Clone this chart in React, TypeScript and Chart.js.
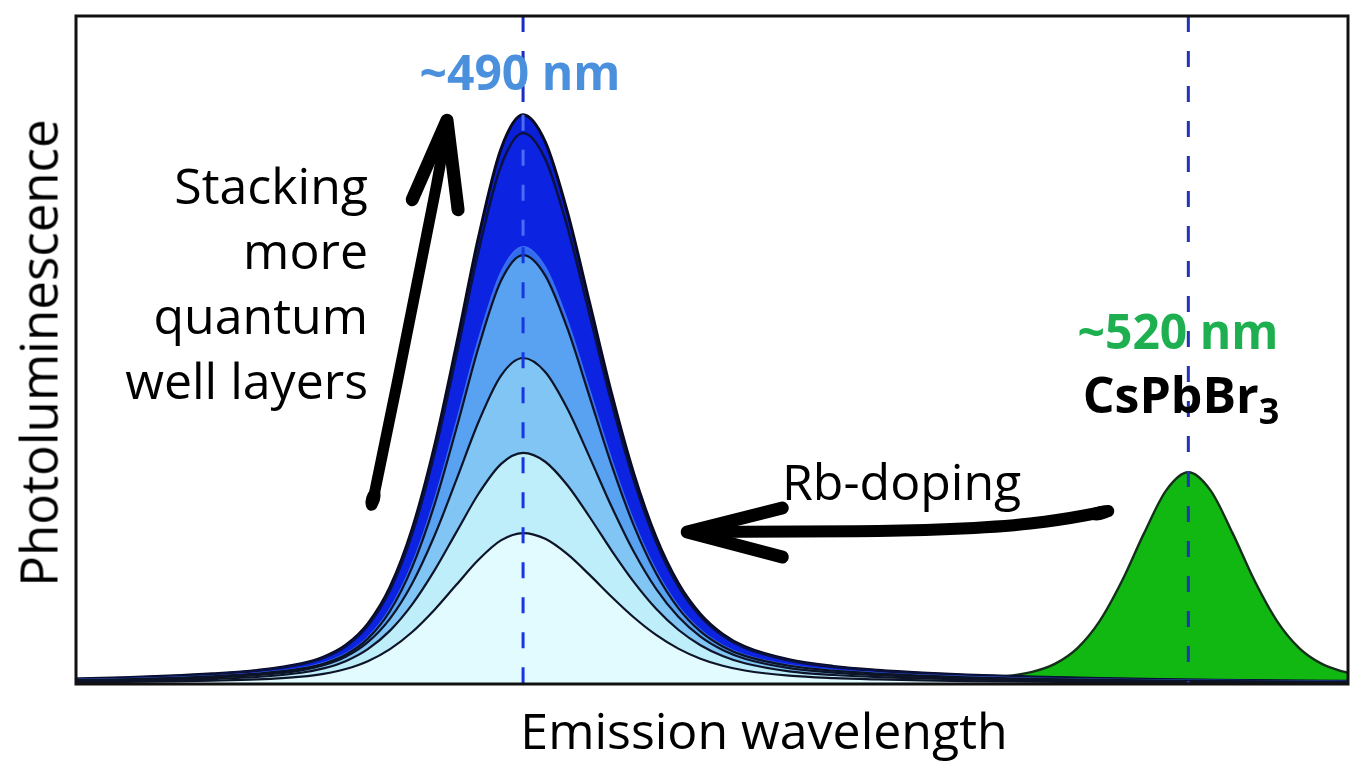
import React, { useEffect, useRef } from "react";
import { Chart, registerables } from "chart.js";

Chart.register(...registerables);

// ---- data (x = emission wavelength in nm, y = normalised photoluminescence) ----
const wavelengths = [469.8, 472, 474, 476, 478, 480, 481, 482, 483, 484, 485, 486, 487, 488, 489, 490, 491, 492, 493, 494, 495, 496, 497, 498, 499, 500, 502, 504, 506, 508, 510, 513, 516, 520, 527.2];

const layer1 = [0.0075, 0.0094, 0.0118, 0.0152, 0.0204, 0.0304, 0.0404, 0.0581, 0.0901, 0.145, 0.2321, 0.3554, 0.5086, 0.6701, 0.8005, 0.852, 0.8114, 0.7063, 0.5705, 0.4338, 0.3141, 0.2196, 0.1509, 0.1045, 0.0746, 0.0558, 0.0362, 0.0264, 0.0206, 0.0165, 0.0135, 0.0103, 0.0081, 0.0061, 0.004];
const layer2 = [0.0073, 0.0091, 0.0115, 0.0147, 0.0198, 0.0295, 0.0391, 0.0563, 0.0872, 0.1404, 0.2247, 0.3441, 0.4924, 0.6489, 0.7751, 0.825, 0.7857, 0.6839, 0.5524, 0.4201, 0.3042, 0.2126, 0.1461, 0.1011, 0.0722, 0.054, 0.0351, 0.0256, 0.02, 0.016, 0.013, 0.01, 0.0078, 0.0059, 0.0039];
const layer3 = [0.0058, 0.0072, 0.0091, 0.0116, 0.0157, 0.0233, 0.031, 0.0446, 0.0691, 0.1113, 0.1781, 0.2728, 0.3904, 0.5144, 0.6144, 0.654, 0.6229, 0.5422, 0.4379, 0.333, 0.2411, 0.1685, 0.1158, 0.0802, 0.0572, 0.0428, 0.0278, 0.0203, 0.0158, 0.0127, 0.0103, 0.0079, 0.0062, 0.0047, 0.0031];
const layer4 = [0.0057, 0.0071, 0.0089, 0.0114, 0.0154, 0.0229, 0.0304, 0.0438, 0.0679, 0.1093, 0.1749, 0.2678, 0.3832, 0.5049, 0.6032, 0.642, 0.6114, 0.5322, 0.4299, 0.3269, 0.2367, 0.1654, 0.1137, 0.0787, 0.0562, 0.0421, 0.0273, 0.0199, 0.0155, 0.0125, 0.0101, 0.0078, 0.0061, 0.0046, 0.003];
const layer5 = [0.0048, 0.0061, 0.0076, 0.0098, 0.0133, 0.0205, 0.028, 0.0408, 0.0626, 0.0979, 0.1505, 0.2215, 0.3063, 0.393, 0.4614, 0.488, 0.4671, 0.4121, 0.3397, 0.2649, 0.1975, 0.1423, 0.1005, 0.0709, 0.0509, 0.0378, 0.0238, 0.0171, 0.0132, 0.0106, 0.0086, 0.0066, 0.0052, 0.004, 0.0026];
const layer6 = [0.0038, 0.0047, 0.006, 0.0077, 0.0105, 0.0168, 0.0233, 0.0342, 0.0522, 0.0799, 0.1192, 0.1697, 0.2278, 0.2852, 0.3292, 0.346, 0.3327, 0.2975, 0.25, 0.1994, 0.1525, 0.1126, 0.0812, 0.0581, 0.0419, 0.031, 0.019, 0.0135, 0.0103, 0.0083, 0.0068, 0.0052, 0.0041, 0.0031, 0.002];
const layer7 = [0.0025, 0.0031, 0.0039, 0.005, 0.0068, 0.011, 0.0152, 0.0224, 0.0341, 0.0522, 0.0779, 0.1109, 0.1488, 0.1863, 0.215, 0.226, 0.2173, 0.1943, 0.1633, 0.1303, 0.0996, 0.0735, 0.053, 0.0379, 0.0273, 0.0202, 0.0124, 0.0088, 0.0068, 0.0054, 0.0044, 0.0034, 0.0027, 0.002, 0.0013];

const greenWavelengths = [498, 501, 504, 507, 510, 512, 513, 514, 515, 516, 517, 518, 519, 520, 521, 522, 523, 524, 525, 526, 527, 527.2];
const greenValues = [0.0017, 0.0022, 0.0031, 0.0046, 0.0076, 0.0125, 0.0184, 0.0305, 0.0538, 0.0942, 0.1537, 0.2255, 0.2899, 0.317, 0.2899, 0.2255, 0.1537, 0.0942, 0.0538, 0.0305, 0.0184, 0.0168];

const bluePeak = 490;
const greenPeak = 520;
const xMin = 469.84;
const xMax = 527.2;

// annotation arrows in data coordinates [nm, intensity]
const upArrowShaft = [[483.19, 0.268], [483.87, 0.376], [484.77, 0.525], [485.67, 0.675], [486.26, 0.774], [486.57, 0.844]];
const upArrowHead = [[485.0, 0.725], [486.57, 0.844], [487.07, 0.71]];
const leftArrowShaft = [[497.4, 0.2275], [503.0, 0.2285], [507.01, 0.229], [511.52, 0.235], [514.22, 0.2455], [516.39, 0.259]];
const leftArrowHead = [[501.69, 0.2635], [497.4, 0.2275], [501.69, 0.19]];

// ---- styles ----
const layers = [layer7, layer6, layer5, layer4, layer3, layer2, layer1];
const layerFills = ["#E2FBFF", "#BDEEFA", "#80C5F3", "#58A2F1", "#2F6CF0", "#0C24E2", "#0A1FD8"];
const layerBorders = ["#0E1428", "#0E1428", "#0E1428", "#0E1428", "#3A6FEF", "#0B1140", "#070A20"];
const layerWidths = [2.2, 2.2, 2.2, 2.2, 2.5, 2.5, 3];

const FONT = "'Open Sans', 'DejaVu Sans', sans-serif";

function smoothPath(ctx: CanvasRenderingContext2D, pts: number[][]) {
  ctx.beginPath();
  ctx.moveTo(pts[0][0], pts[0][1]);
  for (let i = 1; i < pts.length - 1; i++) {
    const mx = (pts[i][0] + pts[i + 1][0]) / 2;
    const my = (pts[i][1] + pts[i + 1][1]) / 2;
    ctx.quadraticCurveTo(pts[i][0], pts[i][1], mx, my);
  }
  const last = pts[pts.length - 1];
  ctx.lineTo(last[0], last[1]);
}

const framePlugin = {
  id: "frameAndArrows",
  afterDatasetsDraw(chart: any) {
    const { ctx, chartArea, scales } = chart;
    const toPx = (p: number[]) => [scales.x.getPixelForValue(p[0]), scales.y.getPixelForValue(p[1])];
    ctx.save();
    ctx.strokeStyle = "#111";
    ctx.lineWidth = 3;
    ctx.strokeRect(chartArea.left, chartArea.top, chartArea.right - chartArea.left, chartArea.bottom - chartArea.top);

    ctx.strokeStyle = "#000";
    ctx.fillStyle = "#000";
    ctx.lineCap = "round";
    ctx.lineJoin = "round";
    // up arrow
    ctx.lineWidth = 11;
    smoothPath(ctx, upArrowShaft.map(toPx));
    ctx.stroke();
    ctx.lineWidth = 13;
    ctx.beginPath();
    const uh = upArrowHead.map(toPx);
    ctx.moveTo(uh[0][0], uh[0][1]);
    ctx.lineTo(uh[1][0], uh[1][1]);
    ctx.lineTo(uh[2][0], uh[2][1]);
    ctx.stroke();
    const ub = toPx(upArrowShaft[0]);
    ctx.beginPath();
    ctx.ellipse(ub[0] + 1, ub[1] - 6, 7, 12, 0.3, 0, Math.PI * 2);
    ctx.fill();
    // left arrow
    ctx.lineWidth = 12;
    smoothPath(ctx, leftArrowShaft.map(toPx));
    ctx.stroke();
    const lb = toPx(leftArrowShaft[leftArrowShaft.length - 1]);
    ctx.beginPath();
    ctx.ellipse(lb[0] - 8, lb[1] + 2, 14, 7, -0.2, 0, Math.PI * 2);
    ctx.fill();
    ctx.lineWidth = 13;
    const lh = leftArrowHead.map(toPx);
    ctx.beginPath();
    ctx.moveTo(lh[0][0], lh[0][1]);
    ctx.lineTo(lh[1][0], lh[1][1]);
    ctx.lineTo(lh[2][0], lh[2][1]);
    ctx.stroke();
    ctx.restore();
  },
};

export default function App() {
  const canvasRef = useRef<HTMLCanvasElement | null>(null);

  useEffect(() => {
    document.body.style.margin = "0";
    const canvas = canvasRef.current;
    if (!canvas) return;

    const blueDashColors = ["#1B2BC8", "#4A6CF6", "#1636E2"];
    const datasets: any[] = [
      {
        data: [
          { x: bluePeak, y: 1 },
          { x: bluePeak, y: Math.max(...layer1) },
          { x: bluePeak, y: Math.max(...layer3) },
          { x: bluePeak, y: 0 },
        ],
        borderColor: "#1B2BC8",
        borderWidth: 3,
        borderDash: [16, 19],
        segment: { borderColor: (c: any) => blueDashColors[c.p0DataIndex] },
        fill: false,
        pointRadius: 0,
        tension: 0,
      },
      {
        data: [
          { x: greenPeak, y: 1 },
          { x: greenPeak, y: 0 },
        ],
        borderColor: "#2233B8",
        borderWidth: 3,
        borderDash: [16, 19],
        fill: false,
        pointRadius: 0,
        tension: 0,
      },
    ];
    layers.forEach((arr, i) => {
      datasets.push({
        data: wavelengths.map((w, j) => ({ x: w, y: arr[j] })),
        borderColor: layerBorders[i],
        borderWidth: layerWidths[i],
        backgroundColor: layerFills[i],
        fill: "origin",
        pointRadius: 0,
        cubicInterpolationMode: "monotone",
      });
    });
    datasets.push({
      data: greenWavelengths.map((w, j) => ({ x: w, y: greenValues[j] })),
      borderColor: "#14301A",
      borderWidth: 2.4,
      backgroundColor: "#12B812",
      fill: "origin",
      pointRadius: 0,
      cubicInterpolationMode: "monotone",
    });

    const chart = new Chart(canvas, {
      type: "line",
      data: { datasets },
      options: {
        animation: false,
        responsive: false,
        layout: { padding: { left: 76, top: 16, right: 7, bottom: 79 } },
        plugins: { legend: { display: false }, tooltip: { enabled: false } },
        scales: {
          x: { type: "linear", min: xMin, max: xMax, display: false },
          y: { type: "linear", min: 0, max: 1, display: false },
        },
      },
      plugins: [framePlugin],
    } as any);
    return () => chart.destroy();
  }, []);

  const base: React.CSSProperties = { position: "absolute", fontFamily: FONT, whiteSpace: "nowrap", lineHeight: 1, color: "#000" };

  return (
    <div style={{ position: "relative", width: 1355, height: 763, background: "#fff", overflow: "hidden" }}>
      <canvas ref={canvasRef} width={1355} height={763} style={{ position: "absolute", left: 0, top: 0 }} />
      <div style={{ ...base, left: 520, top: 72, transform: "translate(-50%,-50%)", fontSize: 48, fontWeight: 700, color: "#4A90DC" }}>~490 nm</div>
      <div style={{ ...base, right: 987, top: 153, textAlign: "right", fontSize: 50, lineHeight: "65px" }}>
        Stacking<br />more<br />quantum<br />well layers
      </div>
      <div style={{ ...base, left: 782, top: 456, fontSize: 50 }}>Rb-doping</div>
      <div style={{ ...base, left: 1178, top: 331, transform: "translate(-50%,-50%)", fontSize: 48, fontWeight: 700, color: "#1EB050" }}>~520 nm</div>
      <div style={{ ...base, left: 1181, top: 399, transform: "translate(-50%,-50%)", fontSize: 50, fontWeight: 700 }}>
        CsPbBr<span style={{ fontSize: "0.72em", verticalAlign: "-0.28em" }}>3</span>
      </div>
      <div style={{ ...base, left: 38, top: 353, transform: "translate(-50%,-50%) rotate(-90deg)", fontSize: 51 }}>Photoluminescence</div>
      <div style={{ ...base, left: 764, top: 730, transform: "translate(-50%,-50%)", fontSize: 50 }}>Emission wavelength</div>
    </div>
  );
}
